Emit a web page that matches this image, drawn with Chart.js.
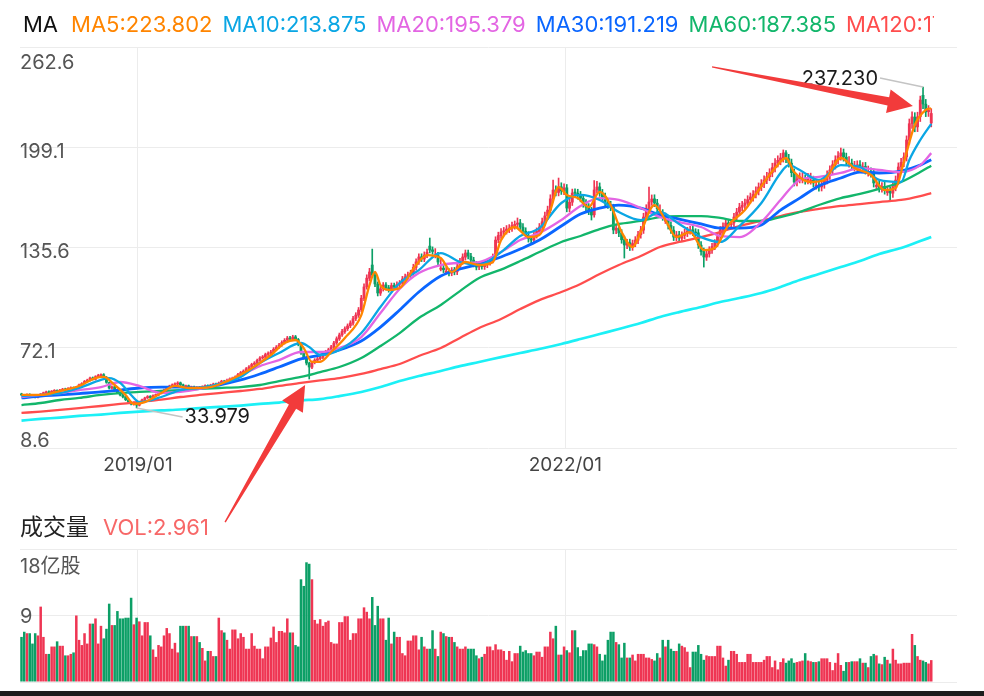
<!DOCTYPE html>
<html>
<head>
<meta charset="utf-8">
<script src="https://cdn.jsdelivr.net/npm/chart.js@4.4.1/dist/chart.umd.min.js"></script>
<style>
  html, body { margin: 0; padding: 0; background: #fff; }
  #wrap { position: relative; width: 984px; height: 696px; overflow: hidden; }
  #priceCanvas { position: absolute; left: 0; top: 0; }
  #volCanvas { position: absolute; left: 0; top: 490px; }
  #bottomBar { position: absolute; left: 0; top: 691px; width: 984px; height: 5px; background: #1d1d1d; }
</style>
</head>
<body>
<div id="wrap">
  <canvas id="priceCanvas" width="984" height="696"></canvas>
  <canvas id="volCanvas" width="984" height="206"></canvas>
  <div id="bottomBar"></div>
</div>
<script>
// weekly candles, index 0 = first bar on the left
const opens = [
  42.8,42.0,41.4,42.6,41.9,41.0,40.8,41.6,42.7,43.5, 44.2,43.4,44.5,45.1,44.2,45.2,46.0,45.1,46.2,46.9,
  46.0,47.3,48.5,49.6,50.7,51.5,53.0,52.1,53.9,54.5, 55.0,53.4,50.0,46.5,47.4,45.1,43.5,42.1,41.1,39.0,
  37.5,36.4,37.3,35.7,37.6,39.0,40.4,41.3,40.5,41.9, 42.1,43.4,44.7,45.2,46.6,47.7,48.7,49.1,49.9,48.6,
  47.4,48.0,46.5,47.3,46.0,47.0,46.5,47.5,48.1,47.2, 48.4,49.2,48.5,49.9,51.0,50.1,51.7,52.3,53.0,53.5,
  55.3,56.5,57.2,58.9,59.8,61.6,62.3,64.2,65.7,66.1, 67.9,68.6,69.3,71.3,72.4,73.9,75.3,76.9,78.3,77.5,
  79.0,77.3,74.0,68.7,66.0,62.3,59.8,62.9,64.2,65.2, 66.1,68.1,69.4,70.9,72.5,75.2,77.7,80.3,82.3,84.2,
  86.0,87.7,90.6,92.7,96.1,103.4,110.7,116.1,124.5,118.1, 112.4,106.7,109.5,111.9,110.1,108.8,111.6,110.5,112.3,113.0,
  115.7,117.1,118.2,119.5,123.0,126.6,129.7,128.3,130.9,136.5, 134.1,130.0,130.7,121.8,122.5,119.8,120.5,119.5,121.3,120.2,
  123.3,126.9,129.5,132.2,130.1,127.6,125.0,123.3,124.9,123.5, 124.6,126.2,127.6,129.7,140.4,143.1,145.5,146.2,147.2,148.0,
  149.4,150.3,151.2,148.5,145.9,143.4,141.1,140.4,143.6,145.7, 148.7,151.8,155.7,159.2,166.5,172.1,170.5,174.0,171.4,173.4,
  160.5,164.3,170.2,170.0,168.6,166.8,163.5,161.1,158.8,156.3, 172.1,174.0,170.1,167.7,163.7,162.6,161.1,146.6,147.9,144.7,
  140.6,137.1,138.7,135.8,138.2,140.2,143.7,146.6,155.0,160.1, 164.5,166.4,163.7,156.6,157.3,152.2,152.9,149.6,146.6,142.1,
  143.6,141.5,143.3,144.7,146.2,146.8,145.2,144.9,137.1,133.1, 129.5,131.6,133.9,136.3,138.3,142.6,146.6,149.1,151.2,150.1,
  151.2,154.8,158.1,161.1,162.4,163.7,166.0,167.5,169.3,171.3, 174.0,175.9,178.4,180.4,182.9,186.1,189.2,190.7,192.4,195.6,
  191.9,189.0,182.9,177.2,179.1,178.3,179.0,178.4,177.4,178.2, 174.3,175.1,174.0,175.7,178.4,181.4,184.8,187.9,191.1,193.5,
  195.6,192.8,188.2,189.0,185.8,186.5,188.0,185.8,186.9,182.5, 183.5,182.7,174.2,175.1,173.2,174.3,170.4,171.3,170.0,174.1,
  178.2,186.7,189.4,193.0,203.6,214.1,218.2,212.0,218.4,232.0, 226.4,221.6,214.5
];
const closes = [
  42.2,41.6,42.5,41.8,41.2,40.9,41.5,42.8,43.6,44.1, 43.5,44.6,45.0,44.3,45.3,45.9,45.2,46.3,46.8,46.1,
  47.2,48.6,49.5,50.8,51.6,52.9,52.2,53.8,54.6,54.8, 53.5,50.2,46.6,47.3,45.0,43.6,42.2,41.0,39.2,37.6,
  36.5,37.2,35.8,37.5,39.1,40.3,41.2,40.6,41.8,42.2, 43.5,44.6,45.3,46.5,47.8,48.6,49.2,49.8,48.7,47.5,
  47.9,46.6,47.2,46.1,46.9,46.6,47.4,48.0,47.3,48.5, 49.1,48.6,49.8,50.9,50.2,51.6,52.4,52.9,53.6,55.2,
  56.4,57.3,58.8,59.9,61.5,62.4,64.1,65.6,66.2,67.8, 68.5,69.4,71.2,72.5,73.8,75.4,76.8,78.2,77.6,78.9,
  77.4,74.2,68.8,65.9,62.4,59.9,62.8,64.3,65.1,66.2, 68.0,69.5,70.8,72.6,75.1,77.8,80.2,82.4,84.1,85.9,
  87.8,90.5,92.8,96.0,103.5,110.6,116.2,120.1,118.2,112.5, 106.8,109.4,111.8,110.2,108.9,111.5,110.6,112.2,113.1,115.6,
  117.0,118.3,119.4,123.1,126.5,129.6,128.4,130.8,132.6,134.0, 133.1,130.8,126.4,122.6,121.5,120.6,119.4,121.2,120.1,123.4,
  126.8,129.6,132.1,130.2,127.7,125.1,123.2,124.8,123.6,124.5, 126.3,127.5,129.6,140.3,143.2,145.4,146.1,147.3,147.9,149.5,
  150.2,151.1,148.6,146.0,143.5,141.2,140.3,143.5,145.8,148.6, 151.9,155.6,159.3,166.4,172.0,170.6,173.9,171.5,173.3,160.6,
  164.2,170.1,170.1,168.5,166.9,163.4,161.2,158.7,156.2,172.0, 173.9,170.2,167.6,163.8,162.5,161.2,146.7,147.8,144.8,140.5,
  137.2,138.6,135.9,138.1,140.3,143.6,146.7,154.9,160.2,164.4, 166.3,163.8,160.1,157.4,155.0,153.0,149.5,146.7,142.2,143.5,
  141.6,143.2,144.8,146.1,146.7,145.3,144.8,137.2,133.0,129.6, 131.5,134.0,136.2,138.4,142.5,146.7,149.0,151.1,150.2,151.1,
  154.9,158.0,161.2,162.3,163.8,165.9,167.6,169.2,171.4,173.9, 176.0,178.3,180.5,182.8,186.2,189.1,190.8,192.3,195.5,192.0,
  189.1,183.0,177.1,179.0,180.3,179.1,178.3,180.0,178.3,176.5, 175.2,173.9,175.6,178.3,181.5,184.7,188.0,191.0,193.6,195.5,
  192.9,190.5,189.1,187.5,186.6,187.9,185.9,186.8,184.7,183.4, 182.8,176.5,175.0,173.3,174.2,172.0,171.2,170.1,174.0,178.3,
  186.6,189.5,192.9,203.7,214.0,218.3,211.9,218.3,229.0,226.5, 221.5,222.5,220.5
];
const highs = [
  43.3,42.5,42.9,43.0,42.3,41.6,41.9,43.2,44.0,44.6, 44.8,45.0,45.6,45.5,45.8,46.4,46.5,46.8,47.4,47.3,
  47.7,49.1,50.0,51.4,52.2,53.5,53.6,54.4,55.3,55.6, 55.7,53.9,50.4,48.0,47.8,45.5,44.0,42.6,41.5,39.5,
  38.0,37.8,37.7,38.0,39.6,40.8,41.8,41.8,42.3,42.8, 44.0,45.2,45.9,47.0,48.4,49.2,49.9,50.6,50.4,49.1,
  48.5,48.5,47.8,47.8,47.5,47.5,48.0,48.6,48.6,49.0, 49.7,49.7,50.4,51.5,51.5,52.2,53.0,53.5,54.3,55.9,
  57.1,58.1,59.6,60.8,62.3,63.3,65.0,66.5,67.2,68.7, 69.5,70.4,72.2,73.5,74.9,76.5,77.9,79.3,79.4,80.0,
  79.9,78.0,74.6,69.5,66.8,63.0,63.6,65.2,66.0,67.1, 69.0,70.5,71.8,73.7,76.2,79.0,81.4,83.7,85.4,87.2,
  89.2,92.0,94.3,97.6,105.3,112.6,118.3,122.4,134.6,119.8, 113.8,111.0,113.4,113.4,111.6,113.1,113.1,113.8,114.7,117.3,
  118.7,120.0,121.2,125.0,128.4,131.6,131.6,132.8,134.6,141.6, 136.0,134.9,132.5,128.0,124.2,123.1,122.2,122.9,123.0,125.2,
  128.7,131.6,134.0,134.0,131.9,129.4,126.8,126.6,126.7,126.3, 128.1,129.3,131.5,142.4,145.3,147.6,148.3,149.5,150.1,151.7,
  152.4,154.3,153.4,150.7,148.1,145.6,143.3,145.7,148.0,150.8, 154.2,158.0,161.8,169.0,178.3,174.7,179.6,176.6,176.0,175.5,
  166.7,172.6,172.7,172.5,171.1,169.2,165.9,163.4,161.0,178.0, 177.5,176.5,172.4,170.0,166.0,164.9,163.0,150.3,150.1,146.9,
  142.8,140.8,140.9,140.3,142.5,145.9,149.0,157.3,162.7,173.9, 168.9,169.0,166.1,162.6,159.6,157.4,155.2,151.9,148.9,145.8,
  145.9,145.5,147.1,148.4,149.0,149.1,147.5,147.0,139.3,135.3, 133.6,136.1,138.3,140.6,144.7,148.9,151.3,153.4,153.5,153.4,
  157.2,160.4,163.6,164.8,166.3,168.4,170.1,171.7,174.0,176.5, 178.6,181.0,183.2,185.5,189.0,192.0,193.7,195.2,197.4,197.0,
  194.6,191.6,185.4,181.6,182.9,183.0,181.5,182.6,182.7,180.8, 179.0,177.7,178.2,180.9,184.1,187.3,190.6,193.7,196.3,198.6,
  198.0,195.4,193.2,191.6,190.2,190.5,190.6,189.4,189.5,187.2, 186.1,185.3,179.0,177.7,176.8,176.9,174.5,173.9,176.6,180.9,
  189.2,192.1,195.5,206.3,217.0,221.5,221.0,221.3,231.5,237.23, 229.4,225.5,223.5
];
const lows = [
  41.7,41.0,41.0,41.4,40.7,40.3,40.4,41.3,42.3,43.0, 43.0,43.0,44.0,43.8,43.8,44.8,44.7,44.7,45.8,45.6,
  45.6,46.9,48.0,49.1,50.2,51.0,51.6,51.6,53.3,53.9, 53.0,49.6,46.0,45.9,44.4,43.0,41.6,40.4,38.6,37.0,
  35.9,35.8,33.979,35.2,37.1,38.5,39.9,40.0,40.0,41.3, 41.6,42.9,44.1,44.7,46.1,47.1,48.1,48.5,48.1,46.9,
  46.8,46.0,46.0,45.5,45.5,46.0,46.0,47.0,46.8,46.7, 47.9,48.0,48.0,49.4,49.6,49.6,51.1,51.8,52.4,53.0,
  54.7,55.9,56.6,58.2,59.1,60.9,61.6,63.5,64.9,65.4, 67.1,67.8,68.5,70.5,71.6,73.0,74.4,76.0,76.7,76.6,
  76.5,73.3,67.8,64.8,61.2,52.3,58.8,61.9,63.3,64.3, 65.2,67.2,68.5,70.0,71.5,74.2,76.7,79.2,81.1,83.0,
  84.8,86.4,89.3,91.3,94.8,102.0,109.2,114.5,116.5,110.8, 104.9,105.2,108.0,108.7,107.3,107.3,109.0,109.0,110.8,111.5,
  114.1,115.5,116.6,117.9,121.3,124.9,126.7,126.6,129.1,132.2, 131.3,129.0,124.6,120.8,119.7,118.8,117.6,117.7,118.3,118.4,
  121.5,125.0,127.7,128.4,125.9,123.3,121.4,121.5,121.8,121.7, 122.8,124.4,125.8,128.5,138.6,141.3,143.4,144.1,145.0,145.8,
  147.2,148.1,146.4,143.8,141.3,139.0,138.1,138.4,141.6,143.7, 146.7,149.8,153.6,157.4,164.6,168.2,168.3,169.2,169.0,158.2,
  158.2,162.2,167.6,166.2,164.5,161.1,158.9,156.4,153.0,154.8, 170.2,168.0,165.3,161.6,160.3,158.9,144.3,144.4,142.5,138.3,
  128.9,134.8,133.7,133.8,136.1,138.1,141.5,144.5,152.8,158.0, 162.3,161.5,157.9,155.2,152.8,150.8,147.3,144.5,140.0,139.9,
  139.4,139.3,141.1,142.5,144.0,143.1,142.6,135.0,130.8,123.2, 127.4,129.5,131.8,134.2,136.2,140.5,144.4,146.9,148.0,147.9,
  149.0,152.6,155.9,158.8,160.1,161.4,163.7,165.0,167.0,168.9, 171.6,173.5,176.0,177.9,180.4,183.5,186.6,188.0,189.7,189.4,
  186.5,180.4,174.6,174.6,176.5,176.5,175.7,175.8,175.7,173.9, 172.6,171.3,171.4,173.1,175.8,178.8,182.2,185.3,188.5,190.9,
  190.3,187.9,186.5,184.9,184.0,183.9,183.3,183.2,182.1,180.8, 180.2,173.9,172.4,170.7,170.6,169.4,168.6,165.7,167.4,171.5,
  175.6,184.1,186.8,190.4,201.0,211.1,208.9,209.0,215.4,223.5, 218.5,218.6,212.0
];
// volume in 亿股
const volumes = [
  6.1,6.8,6.6,6.6,5.2,6.6,6.3,10.2,6.1,3.8, 3.8,4.8,4.8,5.5,4.9,4.9,3.6,3.6,3.8,4.0,
  9.0,5.7,5.0,6.6,5.2,7.9,7.9,8.6,5.2,7.6, 5.9,7.2,10.6,7.7,7.7,9.6,8.6,8.6,8.7,8.7,
  11.4,7.8,8.7,8.2,6.3,8.1,8.1,6.3,4.4,3.4, 5.0,4.8,6.3,7.3,6.6,4.5,5.3,4.0,7.6,7.6,
  7.6,7.6,6.2,6.2,6.2,5.4,4.6,2.9,4.2,4.2, 3.5,3.5,8.7,7.0,6.7,5.7,4.5,7.1,7.1,5.9,
  6.6,6.1,4.5,4.5,6.6,4.9,4.5,4.5,3.2,4.8, 4.8,6.0,7.5,5.4,6.9,6.9,6.7,8.6,6.7,6.7,
  5.0,4.8,13.9,13.0,16.2,16.0,13.9,8.4,7.9,8.5, 7.6,8.1,8.3,5.4,5.2,5.2,8.1,8.1,8.9,8.9,
  5.7,6.6,6.6,8.6,8.6,10.1,9.5,8.6,11.5,7.7, 10.3,8.6,8.6,5.7,8.7,5.2,6.8,6.1,6.1,3.9,
  3.6,5.6,5.6,6.3,6.3,4.4,6.1,4.8,4.5,4.5, 7.0,4.5,3.5,6.8,6.6,6.2,6.1,6.1,5.4,4.8,
  4.5,4.5,4.8,4.5,4.5,4.5,3.6,3.2,3.4,3.8, 4.8,4.8,4.3,5.1,4.4,4.4,4.2,3.0,4.2,2.8,
  3.9,3.9,4.9,4.1,4.3,3.9,3.9,3.6,4.1,4.1, 3.4,4.8,4.8,6.8,5.9,7.6,3.7,3.7,4.8,4.3,
  4.0,7.0,7.0,4.7,3.5,4.3,4.3,5.2,5.2,5.1, 4.8,3.8,2.9,3.7,5.7,6.8,6.8,5.4,5.1,3.3,
  5.3,3.3,3.3,3.7,2.9,3.8,3.8,3.8,3.3,3.3, 3.1,2.9,3.9,3.3,5.7,4.8,5.7,4.5,4.2,4.2,
  5.2,4.9,4.7,4.1,2.0,4.1,4.1,5.0,3.8,3.0, 3.6,3.5,3.5,3.5,4.9,4.9,3.3,2.2,3.0,4.2,
  4.2,3.8,2.7,2.7,2.7,3.8,3.8,2.7,2.7,2.7, 2.7,3.0,3.5,3.5,2.0,2.9,1.7,2.7,3.2,2.6,
  2.9,3.2,2.6,2.7,2.8,2.9,3.9,2.9,2.8,2.7, 2.7,2.8,3.2,3.2,3.2,2.7,1.6,2.6,3.9,2.3,
  1.5,2.7,2.7,2.8,2.8,2.8,3.2,2.6,2.6,2.0, 3.5,3.8,3.6,2.5,2.4,3.4,3.0,2.5,4.5,3.0,
  2.5,2.5,2.6,2.6,2.6,6.5,5.0,3.5,3.0,2.9, 2.7,2.5,2.961
];

// moving averages at the bar indices listed beside them
const ma5Idx = [0,7,14,21,27,30,34,38,41,45,51,56,61,69,76,83,91,96,100,103,106,109,113,118,124,127,129,131,134,138,
  144,148,153,157,162,167,172,175,180,185,189,193,196,199,203,207,211,215,219,223,226,231,235,239,244,249,253,258,264,269,
  275,279,282,288,293,299,304,310,315,319,322,326,330,332];
const ma5 = [42.2,42.2,44.7,47.9,52.9,53.6,48.5,42.2,36.5,37.7,43.4,47.9,46.6,47.2,51.7,58.0,67.5,75.1,77.0,71.9,
  63.1,63.1,69.4,78.3,92.8,111.8,120.1,111.8,108.7,109.9,124.5,130.8,128.9,120.1,126.4,124.5,126.4,140.3,148.6,142.2,
  143.5,159.3,173.9,168.9,166.9,161.2,170.8,162.5,145.4,135.9,145.4,162.5,153.0,142.2,145.4,134.0,135.3,149.8,159.3,172.0,
  185.9,192.3,183.4,177.1,178.4,192.3,185.9,181.5,172.0,173.3,189.7,213.2,222.7,223.802];
const ma10Idx = [0,7,14,21,29,32,36,40,43,51,58,65,72,80,87,94,102,105,109,116,124,131,138,145,153,160,167,175,182,189,
  197,204,211,218,226,233,240,248,255,262,270,277,280,284,291,299,306,313,321,324,328,332];
const ma10 = [41.5,42.2,43.4,46.6,51.7,52.9,49.8,42.2,37.7,40.9,45.3,46.6,49.1,53.6,62.4,68.8,75.1,72.6,67.5,70.7,
  81.4,97.9,113.1,121.3,132.1,126.4,124.5,132.7,142.9,147.9,163.8,168.9,165.7,158.1,153.0,158.1,150.5,142.2,139.1,149.2,
  163.8,182.8,187.8,184.7,178.4,187.8,186.6,178.4,177.1,191.0,203.7,213.875];
const maIdx = [0,7,14,21,29,36,43,51,58,65,72,80,87,94,102,109,116,124,131,138,145,153,160,167,175,182,189,197,204,211,
  218,226,233,240,248,255,262,270,277,284,291,299,306,313,321,328,332];
const ma20 = [40.9,42.2,43.4,45.3,47.2,50.4,47.9,43.4,44.1,46.0,49.1,54.8,60.5,64.3,69.4,69.4,71.9,78.9,94.1,109.3,
  119.4,124.5,125.8,126.4,132.7,140.3,144.8,153.0,161.9,166.9,165.7,160.6,154.9,151.7,148.6,142.9,142.2,151.7,165.7,178.4,
  180.3,182.8,185.9,184.7,183.4,187.8,195.379];
const ma30 = [40.3,41.5,42.2,43.1,44.1,45.3,46.6,47.2,47.2,46.6,48.5,51.7,55.5,59.9,65.0,67.5,70.7,76.4,85.2,96.0,
  107.4,117.5,122.0,125.1,129.6,134.6,140.3,149.2,156.8,160.6,162.5,160.6,156.2,153.6,150.5,147.9,147.9,149.9,159.3,166.9,
  174.6,179.6,183.4,182.8,184.0,187.8,191.219];
const ma60 = [35.8,37.1,39.0,40.3,42.2,43.4,44.1,44.7,45.3,46.0,46.6,47.2,48.5,51.0,53.6,56.7,59.9,65.6,73.2,81.4,
  90.9,99.2,108.0,116.3,121.6,127.0,132.7,139.1,142.9,147.3,150.5,152.4,154.9,155.5,155.5,154.3,152.4,152.4,154.9,158.1,
  162.5,166.9,169.5,172.7,177.1,183.4,187.385];
const ma120 = [30.8,31.7,32.7,33.9,35.2,36.5,37.8,39.3,40.9,42.2,43.4,44.7,46.0,47.9,49.8,51.4,52.9,55.5,58.6,61.8,
  66.9,71.9,78.3,84.6,90.3,96.6,102.3,107.4,112.5,118.8,124.5,130.2,135.9,139.1,142.2,145.4,149.2,152.4,155.5,158.1,
  160.0,161.9,163.1,164.4,165.7,168.2,170.089];
const ma250 = [26.0,27.0,27.9,28.9,29.8,30.8,31.6,32.4,33.0,33.9,34.6,35.5,36.5,37.4,38.7,39.6,41.5,44.1,47.2,51.0,
  54.2,57.4,60.5,63.1,66.2,68.8,71.3,74.5,77.6,80.8,84.0,87.8,91.6,94.7,97.9,101.1,103.6,106.8,110.6,115.0,
  118.8,123.2,127.0,131.5,135.3,139.7,142.2];

const xTickIdx = [42.5, 198.5];
const xTickLabels = ['2019/01', '2022/01'];
const priceTicks = [8.6, 72.1, 135.6, 199.1, 262.6];
const volTicks = [0, 9, 18];
const volTickLabels = ['', '9', '18亿股'];

// red arrows drawn on top (bar index, price)
const arrowTails = [[252, 250.0], [74.3, -38.3]];
const arrowTips = [[325.3, 225.2], [103.5, 48.5]];

const FONT = 'Inter, "Noto Sans", sans-serif';
const CJK = '"Noto Sans CJK SC", sans-serif';
const UP = '#ef3553';
const DOWN = '#0c9f66';
const GRID = '#ececec';
Chart.defaults.font.family = FONT;

const maSeries = [
  { name: 'MA5', idx: ma5Idx, vals: ma5, color: '#ff8500', width: 2.3 },
  { name: 'MA10', idx: ma10Idx, vals: ma10, color: '#0aa6e4', width: 2.3 },
  { name: 'MA20', idx: maIdx, vals: ma20, color: '#e365e3', width: 2.3 },
  { name: 'MA30', idx: maIdx, vals: ma30, color: '#0a66ff', width: 2.8 },
  { name: 'MA60', idx: maIdx, vals: ma60, color: '#12b66b', width: 2.3 },
  { name: 'MA120', idx: maIdx, vals: ma120, color: '#ff4d4d', width: 2.3 },
  { name: 'MA250', idx: maIdx, vals: ma250, color: '#1cf0f6', width: 2.7 }
];

const candleColors = closes.map((c, i) => c >= opens[i] ? UP : DOWN);
const xMin = -0.55, xMax = 341.4;

function drawArrow(ctx, tx, ty, px, py) {
  const dx = px - tx, dy = py - ty, len = Math.hypot(dx, dy);
  const ux = dx / len, uy = dy / len, nx = -uy, ny = ux;
  const head = 25, hw = 12, s0 = 0.7, s1 = 4.2;
  const bx = px - ux * head, by = py - uy * head;
  ctx.beginPath();
  ctx.moveTo(tx + nx * s0, ty + ny * s0);
  ctx.lineTo(bx + nx * s1, by + ny * s1);
  ctx.lineTo(bx + nx * hw, by + ny * hw);
  ctx.lineTo(px, py);
  ctx.lineTo(bx - nx * hw, by - ny * hw);
  ctx.lineTo(bx - nx * s1, by - ny * s1);
  ctx.lineTo(tx - nx * s0, ty - ny * s0);
  ctx.closePath();
  ctx.fill();
}

const priceOverlay = {
  id: 'priceOverlay',
  afterDraw(chart) {
    const { ctx, chartArea, scales: { x, y } } = chart;
    ctx.save();

    // price labels sit inside the plot, on the left
    ctx.font = '20px ' + FONT;
    ctx.fillStyle = '#555';
    ctx.textAlign = 'left';
    ctx.textBaseline = 'alphabetic';
    priceTicks.forEach((v, k) => {
      const py = y.getPixelForValue(v);
      let off = 10.5;
      if (k === priceTicks.length - 1) off = 22;
      if (k === 0) off = -1;
      ctx.fillText(v.toFixed(1), chartArea.left, py + off);
    });

    // MA legend on top, clipped at the right like the original
    ctx.save();
    ctx.beginPath();
    ctx.rect(0, 0, 934, 44);
    ctx.clip();
    ctx.font = '22px ' + FONT;
    let lx = 23;
    ctx.fillStyle = '#111';
    ctx.fillText('MA', lx, 32);
    lx += ctx.measureText('MA').width + 13;
    maSeries.forEach(s => {
      const t = s.name + ':' + s.vals[s.vals.length - 1].toFixed(3);
      ctx.fillStyle = s.color;
      ctx.fillText(t, lx, 32);
      lx += ctx.measureText(t).width + 10;
    });
    ctx.restore();

    // highest and lowest price marks
    const hiIdx = highs.indexOf(Math.max(...highs));
    const loIdx = lows.indexOf(Math.min(...lows));
    const hx = x.getPixelForValue(hiIdx), hy = y.getPixelForValue(highs[hiIdx]);
    const lox = x.getPixelForValue(loIdx), loy = y.getPixelForValue(lows[loIdx]);
    ctx.strokeStyle = '#c4c4c4';
    ctx.lineWidth = 1.5;
    ctx.beginPath();
    ctx.moveTo(hx, hy); ctx.lineTo(hx - 43, hy - 9);
    ctx.moveTo(lox, loy); ctx.lineTo(lox + 46, loy + 9);
    ctx.stroke();
    ctx.fillStyle = '#1a1a1a';
    ctx.font = '20px ' + FONT;
    ctx.textAlign = 'right';
    ctx.fillText(highs[hiIdx].toFixed(3), hx - 45, hy - 2);
    ctx.textAlign = 'left';
    ctx.fillText(lows[loIdx].toFixed(3), lox + 48, loy + 15);

    // red arrows
    ctx.fillStyle = '#f23b3b';
    arrowTails.forEach((t, k) => {
      drawArrow(ctx,
        x.getPixelForValue(t[0]), y.getPixelForValue(t[1]),
        x.getPixelForValue(arrowTips[k][0]), y.getPixelForValue(arrowTips[k][1]));
    });
    ctx.restore();
  }
};

new Chart(document.getElementById('priceCanvas'), {
  type: 'bar',
  data: {
    datasets: [
      ...maSeries.map((s, k) => ({
        type: 'line',
        data: s.idx.map((ix, j) => ({ x: ix, y: s.vals[j] })),
        borderColor: s.color,
        borderWidth: s.width,
        pointRadius: 0,
        cubicInterpolationMode: 'monotone',
        order: k
      })),
      {
        type: 'bar',
        data: opens.map((o, i) => ({ x: i, y: [o, closes[i]] })),
        backgroundColor: candleColors,
        barThickness: 2.2,
        minBarLength: 1,
        grouped: false,
        order: 20
      },
      {
        type: 'bar',
        data: lows.map((l, i) => ({ x: i, y: [l, highs[i]] })),
        backgroundColor: candleColors,
        barThickness: 1,
        grouped: false,
        order: 21
      }
    ]
  },
  options: {
    responsive: false,
    animation: false,
    devicePixelRatio: 1,
    layout: { padding: { left: 20, right: 27, top: 47, bottom: 218 } },
    plugins: { legend: { display: false }, tooltip: { enabled: false } },
    scales: {
      x: {
        type: 'linear',
        min: xMin,
        max: xMax,
        offset: false,
        afterBuildTicks: s => { s.ticks = xTickIdx.map(v => ({ value: v })); },
        afterFit: s => { s.height = 30; },
        grid: { color: GRID, drawTicks: false, offset: false },
        border: { display: false },
        ticks: {
          padding: 6,
          color: '#444',
          font: { size: 19 },
          maxRotation: 0,
          autoSkip: false,
          callback: (v, i) => xTickLabels[i]
        }
      },
      y: {
        min: priceTicks[0],
        max: priceTicks[priceTicks.length - 1],
        afterBuildTicks: s => { s.ticks = priceTicks.map(v => ({ value: v })); },
        afterFit: s => { s.width = 0; },
        grid: { color: GRID, drawTicks: false },
        border: { display: false },
        ticks: { display: false }
      }
    }
  },
  plugins: [priceOverlay]
});

const volOverlay = {
  id: 'volOverlay',
  afterDraw(chart) {
    const { ctx, chartArea, scales: { y } } = chart;
    ctx.save();
    ctx.textBaseline = 'alphabetic';
    ctx.textAlign = 'left';
    ctx.font = '23px ' + CJK;
    ctx.fillStyle = '#222';
    ctx.fillText('成交量', 20, 45);
    const w = ctx.measureText('成交量').width;
    ctx.font = '22px ' + FONT;
    ctx.fillStyle = '#f76868';
    ctx.fillText('VOL:' + volumes[volumes.length - 1].toFixed(3), 20 + w + 14, 45);

    ctx.font = '20px ' + FONT + ', ' + CJK;
    ctx.fillStyle = '#555';
    volTicks.forEach((v, k) => {
      if (!volTickLabels[k]) return;
      const py = y.getPixelForValue(v);
      const off = k === volTicks.length - 1 ? 24 : 7.5;
      ctx.fillText(volTickLabels[k], chartArea.left, py + off);
    });
    ctx.restore();
  }
};

new Chart(document.getElementById('volCanvas'), {
  type: 'bar',
  data: {
    datasets: [{
      data: volumes.map((v, i) => ({ x: i, y: v })),
      backgroundColor: candleColors,
      barPercentage: 0.92,
      categoryPercentage: 1
    }]
  },
  options: {
    responsive: false,
    animation: false,
    devicePixelRatio: 1,
    layout: { padding: { left: 20, right: 27, top: 59, bottom: 14 } },
    plugins: { legend: { display: false }, tooltip: { enabled: false } },
    scales: {
      x: {
        type: 'linear',
        min: xMin,
        max: xMax,
        offset: false,
        afterBuildTicks: s => { s.ticks = xTickIdx.map(v => ({ value: v })); },
        afterFit: s => { s.height = 0; },
        grid: { color: GRID, drawTicks: false, offset: false },
        border: { display: false },
        ticks: { display: false }
      },
      y: {
        min: 0,
        max: volTicks[volTicks.length - 1],
        afterBuildTicks: s => { s.ticks = volTicks.map(v => ({ value: v })); },
        afterFit: s => { s.width = 0; },
        grid: { color: GRID, drawTicks: false },
        border: { display: false },
        ticks: { display: false }
      }
    }
  },
  plugins: [volOverlay]
});
</script>
</body>
</html>
